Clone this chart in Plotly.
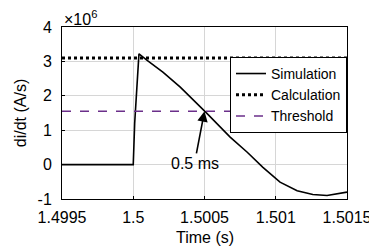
import plotly.graph_objects as go

# Data
sim_t = [1.4995, 1.5, 1.50001, 1.50004, 1.5001, 1.50021, 1.50033, 1.50051, 1.50068,
         1.5008, 1.50091, 1.50103, 1.50115, 1.50126, 1.50136, 1.50145, 1.5015]
sim_didt = [0, 0, 1.2e6, 3.22e6, 3.02e6, 2.68e6, 2.25e6, 1.52e6, 0.80e6,
            0.36e6, -0.08e6, -0.51e6, -0.76e6, -0.87e6, -0.90e6, -0.84e6, -0.80e6]
calc_t = [1.4995, 1.5015]
calc_didt = [3.1e6, 3.1e6]
thr_t = [1.4995, 1.5015]
thr_didt = [1.55e6, 1.55e6]

x_ticks = [1.4995, 1.5, 1.5005, 1.501, 1.5015]
x_ticktext = ["1.4995", "1.5", "1.5005", "1.501", "1.5015"]
y_ticks = [-1e6, 0, 1e6, 2e6, 3e6, 4e6]
y_ticktext = ["-1", "0", "1", "2", "3", "4"]

FONT = "Liberation Sans, Arial, sans-serif"

fig = go.Figure()
fig.add_trace(go.Scatter(x=sim_t, y=sim_didt, mode="lines", name="Simulation",
                         line=dict(color="black", width=1.6)))
fig.add_trace(go.Scatter(x=calc_t, y=calc_didt, mode="lines", name="Calculation",
                         line=dict(color="black", width=3, dash="dot")))
fig.add_trace(go.Scatter(x=thr_t, y=thr_didt, mode="lines", name="Threshold",
                         line=dict(color="#6b2f8a", width=1.6, dash="dash")))

fig.add_annotation(x=1.5005, y=1.55e6, xref="x", yref="y", text="0.5 ms",
                   showarrow=True, arrowhead=2, arrowsize=1.3, arrowwidth=1.6,
                   arrowcolor="black", ax=-10, ay=52, standoff=0,
                   font=dict(family=FONT, size=16, color="black"))
fig.add_annotation(x=0, y=1, xref="paper", yref="paper", xanchor="left", yanchor="bottom",
                   text="×10<sup>6</sup>", showarrow=False, yshift=-3,
                   font=dict(family=FONT, size=16, color="black"))
# x-axis title
fig.add_annotation(x=0.5, y=0, xref="paper", yref="paper", xanchor="center", yanchor="top",
                   text="Time (s)", showarrow=False, yshift=-28,
                   font=dict(family=FONT, size=16, color="black"))

# page body has an 8px margin, so the figure is sized/offset to compensate
fig.update_layout(
    width=369, height=240,
    margin=dict(l=54, r=30, t=19, b=49),
    paper_bgcolor="white", plot_bgcolor="white",
    font=dict(family=FONT, size=16, color="black"),
    showlegend=True,
    legend=dict(x=1, xanchor="right", y=0.826, yanchor="top",
                bgcolor="white", bordercolor="black", borderwidth=1,
                font=dict(family=FONT, size=14, color="black"),
                tracegroupgap=0, itemwidth=30),
    xaxis=dict(range=[1.4995, 1.5015], tickvals=x_ticks, ticktext=x_ticktext,
               showgrid=True, gridcolor="#d6d6d6", gridwidth=1,
               showline=True, linecolor="black", linewidth=1, mirror=True,
               ticks="inside", ticklen=3, tickcolor="black", zeroline=False,
               ticklabelstandoff=4, automargin=False),
    yaxis=dict(range=[-1e6, 4e6], tickvals=y_ticks, ticktext=y_ticktext,
               showgrid=True, gridcolor="#d6d6d6", gridwidth=1,
               showline=True, linecolor="black", linewidth=1, mirror=True,
               ticks="inside", ticklen=3, tickcolor="black", zeroline=False,
               ticklabelstandoff=6, automargin=False,
               title=dict(text="di/dt (A/s)", standoff=6, font=dict(size=16))),
)

fig.write_html("out.html")
